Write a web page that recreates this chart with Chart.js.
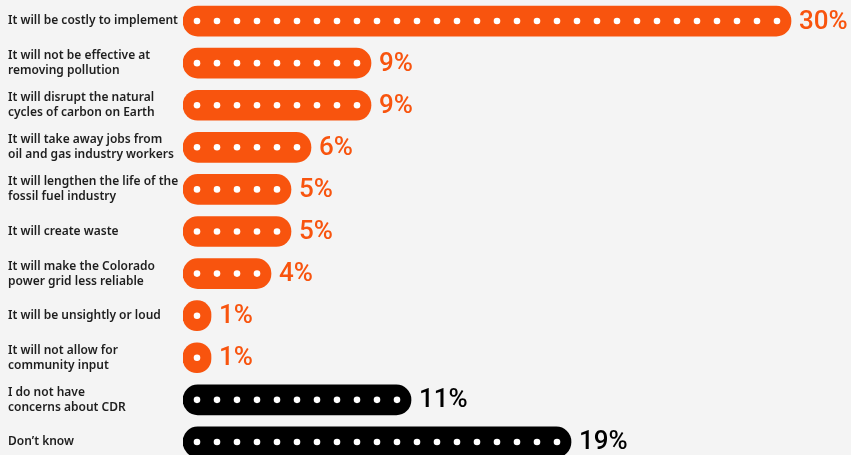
<!DOCTYPE html>
<html>
<head>
<meta charset="utf-8">
<script src="https://cdn.jsdelivr.net/npm/chart.js@4"></script>
<style>
  html, body { margin: 0; padding: 0; background: #f4f4f4; overflow: hidden; }
  #wrap { position: relative; width: 851px; height: 463px; }
</style>
</head>
<body>
<div id="wrap"><canvas id="chart"></canvas></div>
<script>
// Concerns about carbon dioxide removal (CDR), share of respondents
const categories = [
  'It will be costly to implement',
  ['It will not be effective at', 'removing pollution'],
  ['It will disrupt the natural', 'cycles of carbon on Earth'],
  ['It will take away jobs from', 'oil and gas industry workers'],
  ['It will lengthen the life of the', 'fossil fuel industry'],
  'It will create waste',
  ['It will make the Colorado', 'power grid less reliable'],
  'It will be unsightly or loud',
  ['It will not allow for', 'community input'],
  ['I do not have', 'concerns about CDR'],
  'Don\u2019t know'
];
const shares = [30, 9, 9, 6, 5, 5, 4, 1, 1, 11, 19];
// 'concern' rows are orange, the two non-concern answers are black
const groups = ['concern', 'concern', 'concern', 'concern', 'concern', 'concern',
                'concern', 'concern', 'concern', 'none', 'none'];

const ORANGE = '#f8540e';
const BLACK = '#000000';
const groupColor = g => (g === 'concern' ? ORANGE : BLACK);
const barColors = groups.map(groupColor);

// Pill bars start a little before zero so a 1% bar is a full circle
const PILL_START = -0.4;

// White dots inside each pill, one per percentage point
const dotsPlugin = {
  id: 'pillDots',
  afterDatasetsDraw(chart) {
    const { ctx } = chart;
    const xs = chart.scales.x;
    const meta = chart.getDatasetMeta(0);
    ctx.save();
    ctx.fillStyle = '#ffffff';
    meta.data.forEach((bar, i) => {
      const n = Math.round(shares[i]);
      for (let k = 1; k <= n; k++) {
        const cx = xs.getPixelForValue(k - 0.7);
        ctx.beginPath();
        ctx.arc(cx, bar.y, 3.3, 0, Math.PI * 2);
        ctx.fill();
      }
    });
    ctx.restore();
  }
};

// Percentage label after each pill
const valueLabelPlugin = {
  id: 'valueLabels',
  afterDatasetsDraw(chart) {
    const { ctx } = chart;
    const meta = chart.getDatasetMeta(0);
    ctx.save();
    ctx.font = '500 26px Roboto, "Noto Sans", sans-serif';
    ctx.textAlign = 'left';
    ctx.textBaseline = 'middle';
    meta.data.forEach((bar, i) => {
      ctx.fillStyle = barColors[i];
      ctx.fillText(shares[i] + '%', bar.x + 8, bar.y + 1);
    });
    ctx.restore();
  }
};

new Chart(document.getElementById('chart'), {
  type: 'bar',
  data: {
    labels: categories,
    datasets: [{
      data: shares,
      base: PILL_START,
      backgroundColor: barColors,
      borderRadius: 20,
      borderSkipped: false,
      barThickness: 30
    }]
  },
  options: {
    indexAxis: 'y',
    responsive: true,
    maintainAspectRatio: false,
    animation: false,
    layout: { padding: { left: 8, right: 0, top: 0, bottom: 0 } },
    plugins: {
      legend: { display: false },
      tooltip: { enabled: false }
    },
    scales: {
      x: {
        display: false,
        min: PILL_START,
        max: 33
      },
      y: {
        grid: { display: false },
        border: { display: false },
        afterFit(scale) {
          scale.width = 175;
          scale.paddingTop = 0;
          scale.paddingBottom = 0;
        },
        ticks: {
          crossAlign: 'far',
          padding: 0,
          color: '#1e1e1e',
          font: { family: '"Noto Sans", "Open Sans", sans-serif', size: 12, weight: '600', lineHeight: 1.25 }
        }
      }
    }
  },
  plugins: [dotsPlugin, valueLabelPlugin]
});
</script>
</body>
</html>
